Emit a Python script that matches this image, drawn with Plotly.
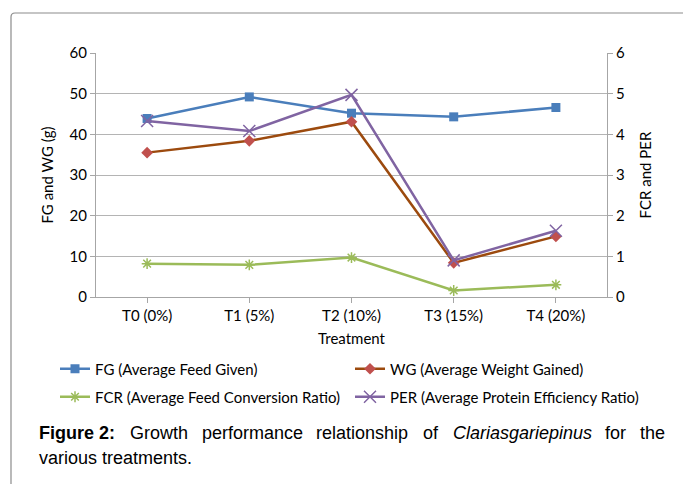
import plotly.graph_objects as go

# ---------------- data ----------------
treatments = ["T0 (0%)", "T1 (5%)", "T2 (10%)", "T3 (15%)", "T4 (20%)"]
fg = [43.9, 49.2, 45.2, 44.3, 46.6]     # Average Feed Given (g)
wg = [35.5, 38.4, 43.1, 8.4, 14.9]      # Average Weight Gained (g)
fcr = [0.82, 0.79, 0.97, 0.16, 0.30]    # Average Feed Conversion Ratio
per = [4.33, 4.08, 4.97, 0.90, 1.63]    # Average Protein Efficiency Ratio

left_ticks = [0, 10, 20, 30, 40, 50, 60]
right_ticks = [0, 1, 2, 3, 4, 5, 6]

# ---------------- layout helpers ----------------
W, H = 683, 484
L, R, T, B = 96, 607, 53, 297   # plot area in pixels


def px(x):
    return (x - L) / (R - L)


def py(y):
    return (B - y) / (B - T)


FONT = "Lato"
fig = go.Figure()

fig.add_trace(go.Scatter(
    x=treatments, y=fg, name="FG (Average Feed Given)", mode="lines+markers",
    line=dict(color="#4a7ebb", width=2.5),
    marker=dict(symbol="square", size=9, color="#4a7ebb"),
    legend="legend"))
fig.add_trace(go.Scatter(
    x=treatments, y=wg, name="WG (Average Weight Gained)", mode="lines+markers",
    line=dict(color="#9c4a0e", width=2.5),
    marker=dict(symbol="diamond", size=9, color="#c0504d"),
    legend="legend"))
fig.add_trace(go.Scatter(
    x=treatments, y=fcr, name="FCR (Average Feed Conversion Ratio)", mode="lines+markers",
    line=dict(color="#9bbb59", width=2.5),
    marker=dict(symbol="asterisk-open", size=9, color="#9bbb59",
                line=dict(color="#9bbb59", width=1.5)),
    yaxis="y2", legend="legend2"))
fig.add_trace(go.Scatter(
    x=treatments, y=per, name="PER (Average Protein Efficiency Ratio)", mode="lines+markers",
    line=dict(color="#8064a2", width=2.5),
    marker=dict(symbol="x-thin-open", size=12, color="#8064a2",
                line=dict(color="#8064a2", width=1.5)),
    yaxis="y2", legend="legend2"))

axis_font = dict(family=FONT, size=15, color="#000000")

legend_common = dict(
    orientation="h", xanchor="left", yanchor="middle",
    font=dict(family=FONT, size=15, color="#000000"),
    entrywidth=250, entrywidthmode="pixels",
    bgcolor="rgba(0,0,0,0)", itemclick=False,
)

# caption words (justified first line)
caption_words = [
    ("<b>Figure 2:</b>", 37),
    ("Growth", 128),
    ("performance", 200),
    ("relationship", 314),
    ("of", 421),
    ("<i>Clariasgariepinus</i>", 451),
    ("for", 603),
    ("the", 638),
]
annotations = []
for txt, xpix in caption_words:
    annotations.append(dict(
        text=txt, x=px(xpix), y=py(433), xref="paper", yref="paper",
        xanchor="left", yanchor="middle", showarrow=False,
        font=dict(family="Liberation Sans", size=18, color="#000000")))
annotations.append(dict(
    text="various treatments.", x=px(37), y=py(458), xref="paper", yref="paper",
    xanchor="left", yanchor="middle", showarrow=False,
    font=dict(family="Liberation Sans", size=18, color="#000000")))

# outer frame (left and top edges with rounded corner)
r = 4
frame_path = (f"M {px(11)},{py(490)} L {px(11)},{py(13 + r)} "
              f"Q {px(11)},{py(13)} {px(11 + r)},{py(13)} L {px(690)},{py(13)}")

fig.update_layout(
    width=W, height=H,
    margin=dict(l=L, r=W - R, t=T, b=H - B),
    paper_bgcolor="white", plot_bgcolor="white",
    font=dict(family=FONT, size=15, color="#000000"),
    xaxis=dict(
        type="category", range=[-0.5, 4.5],
        showline=True, linecolor="#a6a6a6", linewidth=1,
        ticks="outside", ticklen=5, tickcolor="#a6a6a6",
        tickfont=axis_font, showgrid=False,
        title=dict(text="Treatment", font=axis_font, standoff=10),
        fixedrange=True,
    ),
    yaxis=dict(
        range=[0, 60], tickvals=left_ticks,
        showline=True, linecolor="#a6a6a6", linewidth=1,
        ticks="outside", ticklen=5, tickcolor="#a6a6a6",
        showgrid=True, gridcolor="#b4b4b4", gridwidth=1,
        zeroline=False, tickfont=axis_font,
        title=dict(text="FG and WG (g)", font=axis_font, standoff=12),
        fixedrange=True,
    ),
    yaxis2=dict(
        range=[0, 6], tickvals=right_ticks, overlaying="y", side="right",
        showline=True, linecolor="#a6a6a6", linewidth=1,
        ticks="outside", ticklen=5, tickcolor="#a6a6a6",
        showgrid=False, zeroline=False, tickfont=axis_font,
        title=dict(text="FCR and PER", font=axis_font, standoff=16),
        fixedrange=True,
    ),
    legend=dict(x=px(55), y=py(369), **legend_common),
    legend2=dict(x=px(55), y=py(397), **legend_common),
    annotations=annotations,
    shapes=[dict(type="path", path=frame_path, xref="paper", yref="paper",
                 line=dict(color="#8c8c8c", width=1.2))],
    showlegend=True,
)

fig.write_html("out.html", config={"displayModeBar": False},
               post_script="document.body.style.margin='0px';")
